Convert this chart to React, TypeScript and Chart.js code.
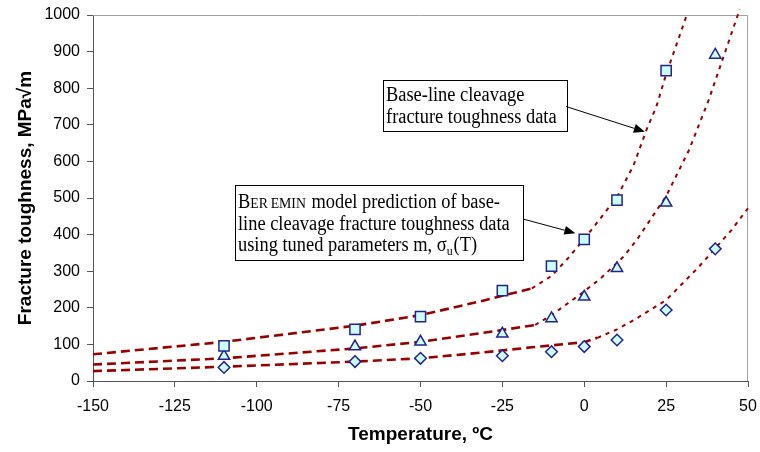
import React, { useEffect, useRef } from "react";
import { Chart, registerables } from "chart.js";

Chart.register(...registerables);

// Measured data (temperature in °C, fracture toughness in MPa√m)
const squareT = [-110, -70, -50, -25, -10, 0, 10, 25];
const squareK = [96, 141, 176, 247, 314, 387, 494, 848];
const triangleT = [-110, -70, -50, -25, -10, 0, 10, 25, 40];
const triangleK = [68, 94, 107, 129, 171, 230, 308, 487, 891];
const diamondT = [-110, -70, -50, -25, -10, 0, 10, 25, 40];
const diamondK = [37, 53, 62, 69, 80, 94, 112, 194, 361];

// Beremin model prediction curves
const upperCurveT = [-150, -110, -70, -50, -32, -16, -10, -5, 0, 5, 10, 15, 19, 22, 25, 28, 31.3];
const upperCurveK = [73, 107, 151, 180, 217, 253, 287, 335, 388, 445, 503, 588, 686, 749, 838, 915, 1000];
const middleCurveT = [-150, -110, -70, -50, -32, -15, -10, -1.5, 5, 12, 16, 25, 32, 38, 47.5];
const middleCurveK = [45, 62, 89, 107, 130, 153, 180, 235, 280, 340, 385, 505, 631, 768, 1016];
const lowerCurveT = [-150, -110, -70, -50, -32, -16, 0, 4, 10, 16, 25, 35, 45, 50];
const lowerCurveK = [27, 39, 53, 62, 77, 92, 106, 118, 141, 171, 221, 312, 413, 472];
const curveKinkT = [-16, -15, 4];

const xTicks = [-150, -125, -100, -75, -50, -25, 0, 25, 50];
const yTicks = [0, 100, 200, 300, 400, 500, 600, 700, 800, 900, 1000];

const RED = "#990000";
const MARK_FILL = "#ccffff";
const MARK_EDGE = "#23238e";
const SANS = "'Liberation Sans', Arial, sans-serif";
const SERIF = "'Liberation Serif', 'Times New Roman', serif";
const SQUEEZE = 0.92;

function pts(xs: number[], ys: number[]) {
  return xs.map((x, i) => ({ x, y: ys[i] }));
}

function curve(xs: number[], ys: number[], kink: number) {
  return {
    data: pts(xs, ys),
    showLine: true,
    pointRadius: 0,
    pointHoverRadius: 0,
    borderColor: RED,
    borderWidth: 2.6,
    borderDash: [9, 5],
    fill: false,
    clip: false,
    order: 2,
    segment: {
      borderDash: (c: any) => (c.p0.parsed.x >= kink ? [4, 5] : [9, 5]),
      borderWidth: (c: any) => (c.p0.parsed.x >= kink ? 2 : 2.6),
    },
  };
}

function markers(xs: number[], ys: number[], style: string, radius: number) {
  return {
    data: pts(xs, ys),
    showLine: false,
    pointStyle: style,
    pointRadius: radius,
    pointHoverRadius: radius,
    pointBackgroundColor: MARK_FILL,
    pointBorderColor: MARK_EDGE,
    pointBorderWidth: 1.5,
    order: 0,
  };
}

function arrow(ctx: CanvasRenderingContext2D, x0: number, y0: number, x1: number, y1: number) {
  const ang = Math.atan2(y1 - y0, x1 - x0);
  const len = 11;
  const hw = 4.5;
  ctx.beginPath();
  ctx.moveTo(x0, y0);
  ctx.lineTo(x1 - Math.cos(ang) * len, y1 - Math.sin(ang) * len);
  ctx.strokeStyle = "#000";
  ctx.lineWidth = 1;
  ctx.stroke();
  ctx.beginPath();
  ctx.moveTo(x1, y1);
  ctx.lineTo(x1 - Math.cos(ang) * len - Math.sin(ang) * hw, y1 - Math.sin(ang) * len + Math.cos(ang) * hw);
  ctx.lineTo(x1 - Math.cos(ang) * len + Math.sin(ang) * hw, y1 - Math.sin(ang) * len - Math.cos(ang) * hw);
  ctx.closePath();
  ctx.fillStyle = "#000";
  ctx.fill();
}

type Run = { text: string; size: number; dy?: number; gap?: number };

function runs(ctx: CanvasRenderingContext2D, x: number, y: number, parts: Run[]) {
  ctx.save();
  ctx.translate(x, y);
  ctx.scale(SQUEEZE, 1);
  let cx = 0;
  for (const p of parts) {
    cx += p.gap || 0;
    ctx.font = `${p.size}px ${SERIF}`;
    ctx.fillText(p.text, cx, p.dy || 0);
    cx += ctx.measureText(p.text).width;
  }
  ctx.restore();
}

const framePlugin = {
  id: "frame",
  beforeDatasetsDraw(chart: any) {
    const { ctx, chartArea: a } = chart;
    ctx.save();
    ctx.strokeStyle = "#a0a0a0";
    ctx.lineWidth = 1;
    ctx.beginPath();
    ctx.moveTo(a.left, a.top + 0.5);
    ctx.lineTo(a.right - 0.5, a.top + 0.5);
    ctx.lineTo(a.right - 0.5, a.bottom);
    ctx.stroke();
    ctx.restore();
  },
};

const notePlugin = {
  id: "notes",
  afterDraw(chart: any) {
    const { ctx } = chart;
    const sx = chart.scales.x;
    const sy = chart.scales.y;
    ctx.save();
    ctx.textBaseline = "alphabetic";
    ctx.textAlign = "left";
    ctx.lineWidth = 1;
    ctx.strokeStyle = "#000";

    // box 1
    ctx.fillStyle = "#fff";
    ctx.fillRect(383, 80, 184, 51);
    ctx.strokeRect(383.5, 80.5, 184, 51);
    ctx.fillStyle = "#000";
    runs(ctx, 386, 101, [{ text: "Base-line cleavage", size: 20 }]);
    runs(ctx, 386, 123, [{ text: "fracture toughness data", size: 20 }]);
    arrow(ctx, 566, 106.5, sx.getPixelForValue(18.5), sy.getPixelForValue(681));

    // box 2
    ctx.fillStyle = "#fff";
    ctx.fillRect(235, 185, 289, 75);
    ctx.strokeRect(235.5, 185.5, 288, 75);
    ctx.fillStyle = "#000";
    runs(ctx, 238, 208, [
      { text: "B", size: 20 },
      { text: "ER", size: 15 },
      { text: "EMIN", size: 15, gap: 3 },
      { text: " model prediction of base-", size: 20, gap: 1 },
    ]);
    runs(ctx, 238, 229.5, [{ text: "line cleavage fracture toughness data", size: 20 }]);
    runs(ctx, 238, 251, [
      { text: "using tuned parameters m, σ", size: 20 },
      { text: "u", size: 13, dy: 4 },
      { text: "(T)", size: 20, gap: 1 },
    ]);
    arrow(ctx, 523, 219, sx.getPixelForValue(-2.7), sy.getPixelForValue(404));
    ctx.restore();
  },
};

export default function App() {
  const ref = useRef<HTMLCanvasElement | null>(null);

  useEffect(() => {
    document.body.style.margin = "0";
    const canvas = ref.current;
    if (!canvas) return;
    const chart = new Chart(canvas, {
      type: "scatter",
      data: {
        datasets: [
          markers(squareT, squareK, "rect", 7.2),
          markers(triangleT, triangleK, "triangle", 6.5),
          markers(diamondT, diamondK, "rectRot", 5.8),
          curve(upperCurveT, upperCurveK, curveKinkT[0]),
          curve(middleCurveT, middleCurveK, curveKinkT[1]),
          curve(lowerCurveT, lowerCurveK, curveKinkT[2]),
        ] as any,
      },
      options: {
        animation: false,
        responsive: false,
        devicePixelRatio: 1,
        layout: { padding: { top: 15, right: 12, left: 0, bottom: 0 } },
        plugins: { legend: { display: false }, tooltip: { enabled: false } },
        events: [],
        scales: {
          x: {
            type: "linear",
            min: xTicks[0],
            max: xTicks[xTicks.length - 1],
            afterFit: (s: any) => {
              s.height = 71;
              s.paddingLeft = 0;
              s.paddingRight = 0;
            },
            afterBuildTicks: (s: any) => {
              s.ticks = xTicks.map((v) => ({ value: v }));
            },
            ticks: {
              color: "#000",
              font: { family: SANS, size: 16 },
              padding: 10,
              autoSkip: false,
              maxRotation: 0,
              callback: (v: any) => String(v),
            },
            grid: { drawOnChartArea: false, drawTicks: true, tickLength: 6, tickColor: "#555" },
            border: { color: "#555", width: 1 },
            title: {
              display: true,
              text: "Temperature, ºC",
              color: "#000",
              font: { family: SANS, size: 19, weight: "bold" },
              padding: { top: 0, bottom: 6 },
            },
          },
          y: {
            type: "linear",
            min: yTicks[0],
            max: yTicks[yTicks.length - 1],
            afterFit: (s: any) => {
              s.width = 93;
              s.paddingTop = 0;
              s.paddingBottom = 0;
            },
            afterBuildTicks: (s: any) => {
              s.ticks = yTicks.map((v) => ({ value: v }));
            },
            ticks: {
              color: "#000",
              font: { family: SANS, size: 16 },
              padding: 7,
              callback: (v: any) => String(v),
            },
            grid: { drawOnChartArea: false, drawTicks: true, tickLength: 6, tickColor: "#555" },
            border: { color: "#555", width: 1 },
            title: {
              display: true,
              text: "Fracture toughness, MPa√m",
              color: "#000",
              font: { family: SANS, size: 19, weight: "bold" },
              padding: { top: 14, bottom: 0 },
            },
          },
        },
      },
      plugins: [framePlugin, notePlugin],
    });
    return () => chart.destroy();
  }, []);

  return (
    <div style={{ width: 760, height: 452 }}>
      <canvas ref={ref} width={760} height={452} style={{ display: "block" }} />
    </div>
  );
}
